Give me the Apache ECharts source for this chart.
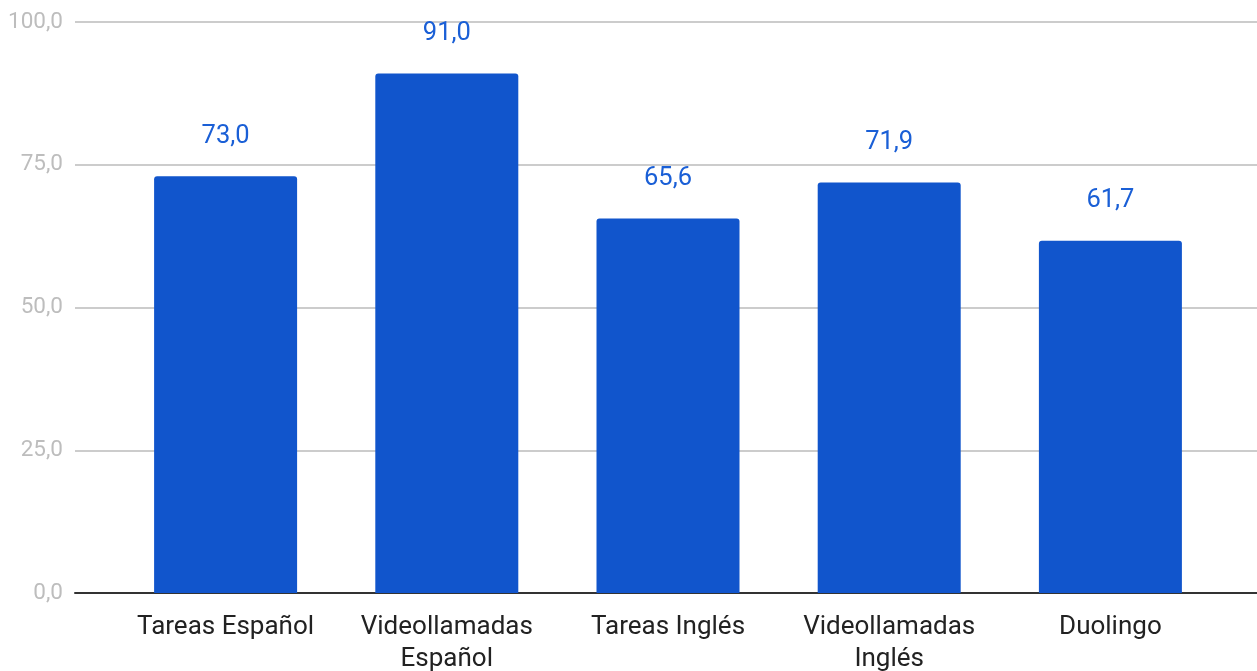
<!DOCTYPE html>
<html>
<head>
<meta charset="utf-8">
<script src="https://cdn.jsdelivr.net/npm/echarts@6/dist/echarts.min.js"></script>
<style>
  html, body { margin: 0; padding: 0; background: #fff; }
  #chart { width: 1257px; height: 671px; }
</style>
</head>
<body>
<div id="chart"></div>
<script type="text/javascript">
    var categories = ['Tareas Español', 'Videollamadas\nEspañol', 'Tareas Inglés', 'Videollamadas\nInglés', 'Duolingo'];
    var values = [73.0, 91.0, 65.6, 71.9, 61.7];
    var yTicks = [0, 25, 50, 75, 100];

    function fmt(v) {
        return v.toFixed(1).replace('.', ',');
    }

    var myChart = echarts.init(document.getElementById('chart'));
    var option = {
        animation: false,
        textStyle: { fontFamily: 'Roboto' },
        grid: [
            // background grid: gridlines + y labels + baseline
            { left: 75, right: 0, top: 22, bottom: 78, outerBoundsMode: 'none', containLabel: false },
            // bars
            { left: 115, right: 36, top: 22, bottom: 78, outerBoundsMode: 'none', containLabel: false }
        ],
        xAxis: [
            {
                gridIndex: 0, type: 'category', data: [''],
                axisLine: { show: true, lineStyle: { color: '#333', width: 2 } },
                axisTick: { show: false }, axisLabel: { show: false }
            },
            {
                gridIndex: 1, type: 'category', data: categories,
                axisLine: { show: false }, axisTick: { show: false },
                axisLabel: {
                    margin: 18, color: '#222', fontSize: 26, lineHeight: 32,
                    interval: 0, fontFamily: 'Roboto'
                }
            }
        ],
        yAxis: [
            {
                gridIndex: 0, type: 'value', min: yTicks[0], max: yTicks[yTicks.length - 1], interval: 25,
                axisLine: { show: false }, axisTick: { show: false },
                splitLine: { lineStyle: { color: '#cccccc', width: 2 } },
                axisLabel: {
                    margin: 12, color: '#bdbdbd', fontSize: 22.5, fontFamily: 'Roboto',
                    formatter: function (v) { return fmt(v); }
                }
            },
            {
                gridIndex: 1, type: 'value', min: 0, max: 100, interval: 25,
                show: false, splitLine: { show: false }
            }
        ],
        series: [
            {
                type: 'bar',
                xAxisIndex: 1, yAxisIndex: 1,
                data: values,
                barWidth: 143,
                itemStyle: { color: '#1155cc', borderRadius: [3, 3, 0, 0] },
                label: {
                    show: true, position: 'top', distance: 27,
                    color: '#1a5fd6', fontSize: 25.5, fontFamily: 'Roboto',
                    formatter: function (p) { return fmt(p.value); }
                },
                z: 3
            }
        ]
    };
    myChart.setOption(option);
</script>
</body>
</html>
